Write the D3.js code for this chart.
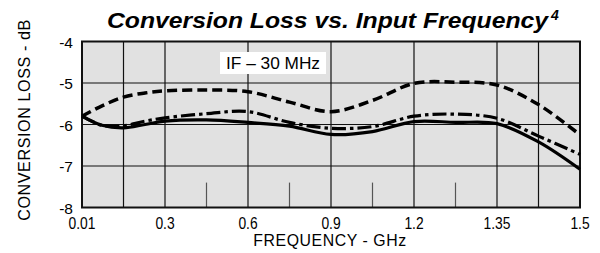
<!DOCTYPE html>
<html>
<head>
<meta charset="utf-8">
<script src="https://cdn.jsdelivr.net/npm/d3@7"></script>
<style>
  body { margin: 0; background: #fff; }
  text { font-family: "Liberation Sans", Arial, sans-serif; }
</style>
</head>
<body>
<div id="chart"></div>
<script>
// frequency axis: labelled values sit on even grid divisions
var tickLabels = [0.01, 0.3, 0.6, 0.9, 1.2, 1.35, 1.5];
var gridFreqs = [0.155, 0.3, 0.6, 0.9, 1.2, 1.35, 1.425];   // full vertical lines
var shortFreqs = [0.45, 0.75, 1.05, 1.275];                 // short ticks at bottom
var yTicks = [-4, -5, -6, -7, -8];

var freq = [0.01, 0.08, 0.155, 0.23, 0.3, 0.45, 0.6, 0.75, 0.9, 1.05, 1.2, 1.275, 1.35, 1.425, 1.5];
var lossDashed  = [-5.80, -5.55, -5.34, -5.24, -5.19, -5.17, -5.21, -5.46, -5.69, -5.42, -5.01, -4.98, -5.05, -5.52, -6.25];
var lossDashDot = [-5.80, -6.02, -6.03, -5.92, -5.84, -5.74, -5.69, -5.95, -6.09, -6.05, -5.80, -5.75, -5.85, -6.28, -6.72];
var lossSolid   = [-5.80, -6.02, -6.08, -6.00, -5.92, -5.89, -5.95, -6.04, -6.24, -6.17, -5.93, -5.95, -5.98, -6.42, -7.08];

var width = 600, height = 253;
var pLeft = 82, pRight = 580, pTop = 41.5, pBottom = 207.5;

var svg = d3.select('#chart').append('svg')
    .attr('width', width)
    .attr('height', height);

var x = d3.scaleLinear()
    .domain(tickLabels)
    .range(tickLabels.map(function (d, i) { return pLeft + i * (pRight - pLeft) / (tickLabels.length - 1); }));

var y = d3.scaleLinear().domain([-8, -4]).range([pBottom, pTop]);

// plot background
svg.append('rect')
    .attr('x', pLeft).attr('y', pTop)
    .attr('width', pRight - pLeft).attr('height', pBottom - pTop)
    .attr('fill', '#e1e1e1');

// horizontal grid
svg.selectAll('.hgrid')
    .data([-5, -6, -7])
    .enter().append('line')
    .attr('x1', pLeft).attr('x2', pRight)
    .attr('y1', function (d) { return y(d); })
    .attr('y2', function (d) { return y(d); })
    .attr('stroke', '#111').attr('stroke-width', 1.2);

// vertical grid
svg.selectAll('.vgrid')
    .data(gridFreqs)
    .enter().append('line')
    .attr('x1', function (d) { return x(d); })
    .attr('x2', function (d) { return x(d); })
    .attr('y1', pTop).attr('y2', pBottom)
    .attr('stroke', '#111').attr('stroke-width', 1.2);

svg.selectAll('.short')
    .data(shortFreqs)
    .enter().append('line')
    .attr('x1', function (d) { return x(d); })
    .attr('x2', function (d) { return x(d); })
    .attr('y1', y(-7.4)).attr('y2', pBottom)
    .attr('stroke', '#555').attr('stroke-width', 1.2);

// frame
svg.append('rect')
    .attr('x', pLeft).attr('y', pTop)
    .attr('width', pRight - pLeft).attr('height', pBottom - pTop)
    .attr('fill', 'none')
    .attr('stroke', '#111').attr('stroke-width', 2);

// legend box
svg.append('rect')
    .attr('x', 220).attr('y', 52)
    .attr('width', 106).attr('height', 22)
    .attr('fill', '#fff');
svg.append('text')
    .attr('x', 226).attr('y', 69)
    .attr('font-size', 16)
    .attr('textLength', 94)
    .attr('lengthAdjust', 'spacingAndGlyphs')
    .text('IF \u2013 30 MHz');

// curves
var line = d3.line()
    .x(function (d) { return x(d[0]); })
    .y(function (d) { return y(d[1]); })
    .curve(d3.curveCatmullRom.alpha(0.5));

var series = [
  { values: lossDashed, dash: '10,5', w: 3.5 },
  { values: lossDashDot, dash: '14,4,3.5,4', w: 3.2 },
  { values: lossSolid, dash: null, w: 3.2 }
];

svg.selectAll('.curve')
    .data(series)
    .enter().append('path')
    .attr('d', function (s) { return line(freq.map(function (f, i) { return [f, s.values[i]]; })); })
    .attr('fill', 'none')
    .attr('stroke', '#000')
    .attr('stroke-width', function (s) { return s.w; })
    .attr('stroke-dasharray', function (s) { return s.dash; });

// axis labels
svg.selectAll('.ytick')
    .data(yTicks)
    .enter().append('text')
    .attr('x', 73)
    .attr('y', function (d) { return y(d) + 6; })
    .attr('text-anchor', 'end')
    .attr('font-size', 15.5)
    .text(function (d) { return d; });

svg.selectAll('.xtick')
    .data(tickLabels)
    .enter().append('text')
    .attr('transform', function (d) { return 'translate(' + x(d) + ',229) scale(0.84,1)'; })
    .attr('text-anchor', 'middle')
    .attr('font-size', 16.5)
    .text(function (d) { return d; });

svg.append('text')
    .attr('transform', 'translate(330,246) scale(0.96,1)')
    .attr('text-anchor', 'middle')
    .attr('font-size', 16.5)
    .attr('letter-spacing', 0.6)
    .text('FREQUENCY - GHz');

svg.append('text')
    .attr('transform', 'translate(30,120) rotate(-90) scale(0.95,1)')
    .attr('text-anchor', 'middle')
    .attr('font-size', 17)
    .attr('letter-spacing', 0.6)
    .text('CONVERSION LOSS - dB');

// title
var title = svg.append('text')
    .attr('x', 107).attr('y', 27.5)
    .attr('font-size', 21.5)
    .attr('font-weight', 'bold')
    .attr('font-style', 'italic');
title.append('tspan')
    .attr('textLength', 441)
    .attr('lengthAdjust', 'spacingAndGlyphs')
    .text('Conversion Loss vs. Input Frequency');
title.append('tspan').attr('x', 551).attr('font-size', 14).attr('dy', -8).text('4');
</script>
</body>
</html>
